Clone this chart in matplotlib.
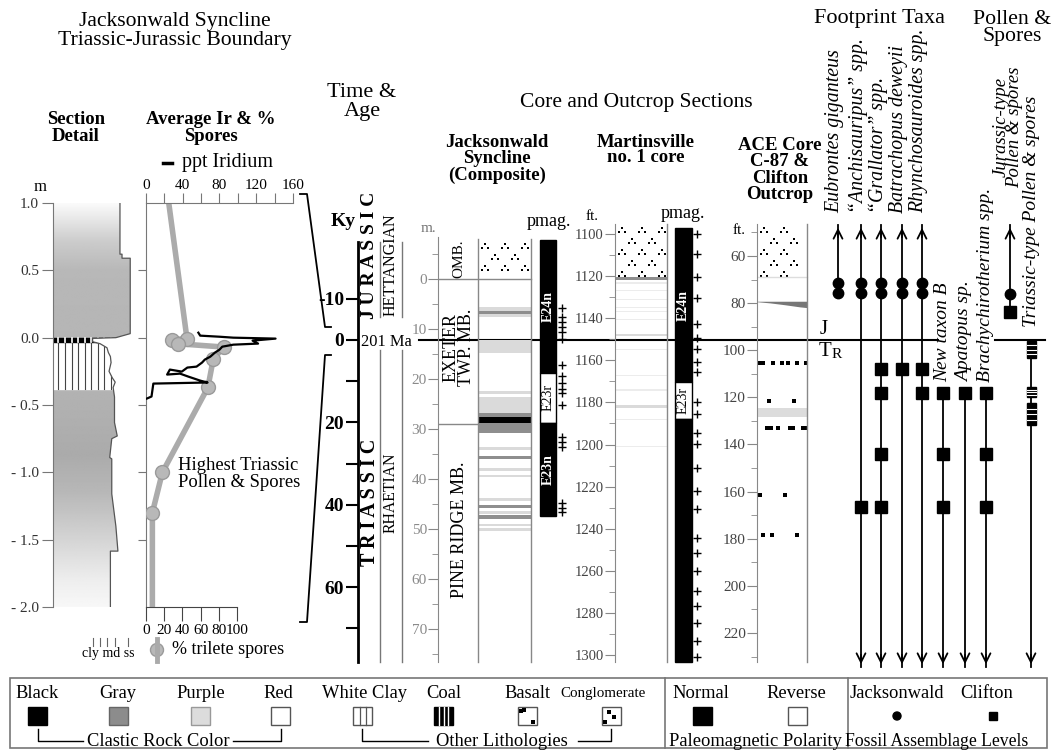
import numpy as np
import matplotlib.pyplot as plt
from matplotlib.patches import Rectangle, Polygon, Circle

plt.rcParams['font.family'] = ['Liberation Serif', 'DejaVu Serif']
plt.rcParams['font.size'] = 11

W, H = 1054, 752
Y0, Y1 = 215, 670          # common vertical span (px) of the section columns

# ---------------- data ----------------
# section detail: depth (m) vs grain-size profile
sec_ticks = [1.0, 0.5, 0.0, -0.5, -1.0, -1.5, -2.0]
sec_tick_labels = ["1.0", "0.5", "0.0", "- 0.5", "- 1.0", "- 1.5", "- 2.0"]
prof_depth = [1.0, 0.62, 0.62, 0.59, 0.59, 0.03, 0.0, -0.005, -0.03, -0.045, -0.075, -0.11,
              -0.14, -0.185, -0.25, -0.30, -0.33, -0.37, -0.44, -0.63, -0.73, -0.75, -0.89,
              -0.90, -1.16, -1.40, -1.585, -1.585, -2.0]
prof_grain = [4.9, 4.9, 5.05, 5.05, 5.65, 5.65, 4.6, 2.9, 2.9, 3.45, 3.95, 4.05,
              4.2, 4.25, 4.1, 4.35, 4.55, 4.4, 4.5, 4.5, 4.7, 4.3, 4.15,
              4.3, 4.3, 4.6, 4.75, 4.2, 4.2]
coal_top, coal_base = 0.0, -0.035
clay_top, clay_base = -0.035, -0.38
grad_depth = [-2.0, -1.8, -1.15, -0.87, -0.4, 0.0, 0.5, 0.72, 1.0]
grad_level = [0.97, 0.93, 0.72, 0.67, 0.70, 0.71, 0.72, 0.80, 0.98]

# iridium (ppt) and trilete spores (%)
ir_depth = [0.037, 0.015, 0.007, 0.0, -0.007, -0.022, -0.044, -0.052, -0.067, -0.089, -0.111,
            -0.141, -0.163, -0.185, -0.215, -0.222, -0.252, -0.237, -0.274, -0.267, -0.289,
            -0.319, -0.333, -0.341, -0.437, -0.452]
ir_ppt = [57, 59, 80, 95, 141, 116, 122, 95, 83, 80, 75, 70, 64, 61, 55, 45, 39, 26, 23, 37,
          46, 59, 67, 8, 6, 1]
spore_depth = [1.0, -0.007, -0.015, -0.045, -0.07, -0.155, -0.37, -1.0, -1.3, -2.0]
spore_pct = [25, 45, 29, 35, 86, 74, 68, 18, 7, 7]

# time scale (ky)
time_ticks = [-10, 0, 10, 20, 30, 40, 50, 60, 70]
time_labels = ["-10", "0", "", "20", "", "40", "", "60", ""]

# Jacksonwald composite (m)
jw_top = [5.6, 6.4, 12.2, 22.4, 23.6, 26.8, 27.6, 28.8, 33.6, 35.3, 37.8, 39.2, 43.8, 45.1,
          46.4, 47.2, 48.9, 49.8]
jw_base = [7.6, 7.0, 14.8, 22.9, 26.8, 27.6, 28.8, 30.8, 34.1, 35.9, 38.3, 39.6, 44.3, 45.7,
           47.0, 48.0, 49.4, 50.3]
jw_color = ['purple', 'gray', 'purple', 'purple', 'purple', 'gray', 'black', 'gray', 'purple',
            'gray', 'purple', 'purple', 'purple', 'gray', 'purple', 'gray', 'purple', 'purple']
jw_congl = (-7.8, 0.0)
jw_pmag_top = [-7.8, 18.7, 28.8]
jw_pmag_base = [18.7, 28.8, 47.3]
jw_pmag_pol = ['n', 'r', 'n']
jw_pmag_name = ['E24n', 'E23r', 'E23n']
jw_plus = [5.8, 7.6, 8.6, 9.5, 10.6, 12.0, 17.2, 19.4, 20.8, 22.0, 22.8, 25.2,
           31.6, 32.6, 33.6, 44.8, 45.7, 46.6]

# Martinsville no. 1 core (ft)
mart_top = [1120.4, 1123.0, 1126.5, 1131.0, 1134.5, 1136.5, 1140.2, 1147.6, 1154.8, 1166.8,
            1173.8, 1181.0, 1187.8, 1200.5]
mart_base = [1122.0, 1123.6, 1127.0, 1131.5, 1135.0, 1137.0, 1140.7, 1148.6, 1155.3, 1167.3,
             1174.4, 1182.8, 1188.3, 1201.0]
mart_color = ['gray', 'pale', 'pale', 'pale', 'pale', 'pale', 'pale', 'purple', 'pale', 'pale',
              'pale', 'purple', 'pale', 'pale']
mart_congl = (1095.2, 1120.4)
mart_pmag_top = [1097.0, 1170.5, 1188.0]
mart_pmag_base = [1170.5, 1188.0, 1303.3]
mart_pmag_pol = ['n', 'r', 'n']
mart_pmag_name = ['E24n', 'E23r', '']
mart_plus = [1100, 1109.5, 1120.4, 1130.4, 1142.8, 1149.4, 1154.7, 1160.8, 1165.6, 1179.8,
             1185.5, 1194.5, 1199.8, 1211, 1222, 1230.6, 1244.4, 1251.5, 1260, 1269.6, 1276.7,
             1284.8, 1293.3, 1300.9]

# ACE core C-87 & Clifton outcrop (ft)
ace_congl = (46.4, 69.0)
ace_band = (124.5, 128.5)
ace_wedge_x = [757, 770, 785, 800, 807]
ace_wedge_top = [79.2, 79.2, 79.2, 79.2, 79.2]
ace_wedge_base = [79.4, 79.9, 80.7, 81.6, 81.9]
ace_dot_ft = [105.4] * 7 + [121.5] * 2 + [133.0] * 7 + [161.4] * 2 + [178.4] * 3
ace_dot_x = [759, 763, 773, 782, 788, 797, 806, 769, 794, 767, 771, 778, 790, 793, 803, 806,
             760, 785, 763, 772, 797]

# footprint taxa / pollen (levels on the Jacksonwald metre scale)
taxa_names = ["Eubrontes giganteus", "\u201cAnchisauripus\u201d spp.", "\u201cGrallator\u201d spp.",
              "Batrachopus deweyii", "Rhynchosauroides spp.", "New taxon B", "Apatopus sp.",
              "Brachychirotherium spp."]
taxa_circles = [[0.8, 2.8]] * 5 + [[], [], []]
taxa_squares = [[], [45.6], [18.0, 22.8, 35.0, 45.6], [18.0], [18.0, 22.8],
                [22.8, 35.0, 45.6], [22.8], [22.8, 35.0, 45.6]]
taxa_up = [True, True, True, True, True, False, False, False]
taxa_down = [False, True, True, True, True, True, True, True]
arrow_top, arrow_bottom = -10.8, 77.6
pollen_jur_circle, pollen_jur_square = 3.0, 6.6
pollen_tri_blocks = [(12.4, 15.8), (21.6, 23.6), (24.8, 29.2)]
pollen_tri_start = 12.4

# ---------------- figure ----------------
fig = plt.figure(figsize=(W / 100, H / 100), dpi=100)


def add_ax(x0, y0, x1, y1):
    ax = fig.add_axes([x0 / W, 1 - y1 / H, (x1 - x0) / W, (y1 - y0) / H])
    ax.set_facecolor('none')
    return ax


def lim_from(v_a, y_a, v_b, y_b):
    k = (v_b - v_a) / (y_b - y_a)
    return v_a + (Y1 - y_a) * k, v_a + (Y0 - y_a) * k


def only_left(ax, color='#777'):
    for s in ['top', 'right', 'bottom']:
        ax.spines[s].set_visible(False)
    ax.spines['left'].set_color(color)
    ax.set_xticks([])


fill_colors = {'black': 'black', 'gray': '#8e8e8e', 'purple': '#dadada', 'pale': '#ececec'}

# ---- section detail ----
ax_sec = add_ax(53, 203, 135, 607)
verts = [(0, 1.0)] + list(zip(prof_grain, prof_depth)) + [(0, -2.0)]
clip = Polygon(verts, closed=True, facecolor='none', edgecolor='none')
ax_sec.add_patch(clip)
zz = np.linspace(-2, 1, 400)
shade = np.interp(zz, grad_depth, grad_level)
im = ax_sec.imshow(np.tile(shade[:, None], (1, 2)), extent=(0, 6, -2, 1), origin='lower',
                   aspect='auto', cmap='gray', vmin=0, vmax=1, interpolation='bilinear')
im.set_clip_path(clip)
r = ax_sec.add_patch(Rectangle((0, clay_base), 6, clay_top - clay_base, color='white'))
r.set_clip_path(clip)
r = ax_sec.add_patch(Rectangle((0, coal_base), 6, coal_top - coal_base, color='black'))
r.set_clip_path(clip)
for gx in np.arange(0.4, 6, 0.48):
    ln, = ax_sec.plot([gx, gx], [clay_base, clay_top], color='#444', lw=0.8)
    ln.set_clip_path(clip)
    ln, = ax_sec.plot([gx, gx], [coal_base, coal_top], color='white', lw=1.2)
    ln.set_clip_path(clip)
ax_sec.plot(prof_grain, prof_depth, color='#555', lw=0.9)
ax_sec.set_xlim(0, 6)
ax_sec.set_ylim(-2.0, 1.0)
only_left(ax_sec)
ax_sec.spines['left'].set_bounds(-2.0, 1.0)
ax_sec.set_yticks(sec_ticks, sec_tick_labels)
ax_sec.tick_params(axis='y', length=8, color='#777', labelsize=11, pad=2, labelcolor='#333')

# ---- iridium & spores ----
ax_sp = add_ax(146, 203, 293, 607)
ax_sp.set_xlim(0, 161.5)
ax_sp.set_ylim(-2.0, 1.0)
ax_sp.plot(spore_pct, spore_depth, color='#ababab', lw=4, solid_capstyle='butt', zorder=2)
ax_sp.plot(spore_pct[1:-1], spore_depth[1:-1], 'o', ms=10, mfc='#b8b8b8', mec='#9a9a9a',
           mew=1, zorder=3)
for s in ['top', 'right']:
    ax_sp.spines[s].set_visible(False)
ax_sp.spines['left'].set_color('#777')
ax_sp.spines['bottom'].set_color('#444')
ax_sp.spines['bottom'].set_bounds(0, 100)
ax_sp.set_xticks(np.arange(0, 101, 20))
ax_sp.set_yticks([0.5, 0.0, -0.5, -1.0, -1.5], [])
ax_sp.tick_params(axis='y', length=6, color='#777')
ax_sp.tick_params(axis='x', length=10, color='#444', labelsize=11, pad=2)

ax_ir = ax_sp.twiny()
ax_ir.set_xlim(0, 160)
ax_ir.plot(ir_ppt, ir_depth, color='black', lw=1.6, zorder=4)
for s in ['bottom', 'right', 'left']:
    ax_ir.spines[s].set_visible(False)
ax_ir.spines['top'].set_color('#777')
ax_ir.set_xticks(np.arange(0, 161, 20), ['0', '', '40', '', '80', '', '120', '', '160'])
ax_ir.tick_params(axis='x', length=7, color='#777', labelsize=11, pad=1)

# ---- time & age ----
ax_time = add_ax(358, Y0, 420, Y1)
ax_time.set_xlim(358, 420)
ax_time.set_ylim(*lim_from(0, 340, 60, 587))
only_left(ax_time, 'black')
ax_time.spines['left'].set_linewidth(2)
ax_time.spines['left'].set_bounds(-23.8, 78.2)
ax_time.set_yticks(time_ticks, time_labels)
ax_time.tick_params(axis='y', length=9, width=1.5, labelsize=14, pad=1)
for t in ax_time.get_yticklabels():
    t.set_fontweight('bold')
for xv in (380, 402):
    ax_time.plot([xv, xv], [-23.8, -5.6], color='#777', lw=1)
    ax_time.plot([xv, xv], [2.4, 78.2], color='#777', lw=1)
ax_time.plot([419, 938], [0, 0], color='black', lw=1.5, clip_on=False, zorder=10)
ax_time.plot([995, 1045], [0, 0], color='black', lw=1.5, clip_on=False, zorder=10)
ax_time.text(361, 0.4, '201 Ma', fontsize=11.8, va='center', ha='left')
ax_time.text(370, -20.5, 'J U R A S S I C', rotation=90, fontsize=14, fontweight='bold',
             ha='center', va='center')
ax_time.text(391, -18.2, 'HETTANGIAN', rotation=90, fontsize=11.5, ha='center', va='center')
ax_time.text(370, 39.5, 'T R I A S S I C', rotation=90, fontsize=14.5, fontweight='bold',
             ha='center', va='center')
ax_time.text(391, 37.0, 'RHAETIAN', rotation=90, fontsize=11.3, ha='center', va='center')


def pmag_bar(ax, x0, x1, tops, bases, pols, names):
    for t, b, p, n in zip(tops, bases, pols, names):
        ax.add_patch(Rectangle((x0, t), x1 - x0, b - t, facecolor='black' if p == 'n' else 'white',
                               edgecolor='black', lw=1, zorder=3))
        if n:
            ax.text((x0 + x1) / 2, (t + b) / 2, n, rotation=90, ha='center', va='center',
                    fontsize=10, zorder=4, color='white' if p == 'n' else 'black',
                    fontweight='bold' if p == 'n' else 'normal')


def conglomerate(ax, x0, x1, top, base, k):
    rows = np.arange(top + 6 * k, base, 11 * k)
    for i, yv in enumerate(rows):
        xs = np.arange(x0 + 7 + (i % 2) * 10, x1 - 3, 20)
        for dx, dy in [(0, -2.2), (-3, 2), (3, 2)]:
            ax.plot(xs + dx, np.full(len(xs), yv + dy * k), 's', ms=1.9, color='black', mew=0)


def bands(ax, x0, x1, tops, bases, colors):
    for t, b, c in zip(tops, bases, colors):
        ax.add_patch(Rectangle((x0, t), x1 - x0, b - t, color=fill_colors[c], lw=0))


# ---- Jacksonwald composite ----
ax_jw = add_ax(438, Y0, 575, Y1)
ax_jw.set_xlim(438, 575)
ax_jw.set_ylim(*lim_from(0, 279, 70, 629))
only_left(ax_jw, '#888')
ax_jw.spines['left'].set_bounds(-8.4, 76.6)
ax_jw.set_yticks(np.arange(0, 71, 10))
ax_jw.set_yticks(np.arange(-5, 76, 10), minor=True)
ax_jw.tick_params(axis='y', which='major', length=7, color='#888', labelcolor='#8a8a8a',
                  labelsize=11, pad=1)
ax_jw.tick_params(axis='y', which='minor', length=4, color='#888')
bands(ax_jw, 478, 531, jw_top, jw_base, jw_color)
conglomerate(ax_jw, 478, 531, jw_congl[0], jw_congl[1], 0.2)
for xv in (478, 531):
    ax_jw.plot([xv, xv], [-8.0, 76.6], color='#888', lw=1)
ax_jw.plot([438, 531], [0, 0], color='#888', lw=1)
ax_jw.plot([438, 478], [29.0, 29.0], color='#888', lw=1)
pmag_bar(ax_jw, 540, 556, jw_pmag_top, jw_pmag_base, jw_pmag_pol, jw_pmag_name)
ax_jw.plot([562] * len(jw_plus), jw_plus, '+', ms=5.5, mew=1, color='black')
ax_jw.text(459, -4.0, 'OMB.', rotation=90, fontsize=11, ha='center', va='center')
ax_jw.text(459, 13.6, 'EXETER\nTWP. MB.', rotation=90, fontsize=13, ha='center', va='center',
           linespacing=0.85)
ax_jw.text(459, 50.2, 'PINE RIDGE MB.', rotation=90, fontsize=13, ha='center', va='center')

# ---- Martinsville ----
ax_m = add_ax(615, Y0, 705, Y1)
ax_m.set_xlim(615, 705)
ax_m.set_ylim(*lim_from(1100, 234, 1300, 655))
only_left(ax_m, '#888')
ax_m.spines['left'].set_bounds(1095.2, 1303.3)
ax_m.set_yticks(np.arange(1100, 1301, 20))
ax_m.set_yticks(np.arange(1110, 1300, 20), minor=True)
ax_m.tick_params(axis='y', which='major', length=7, color='#888', labelcolor='#444',
                 labelsize=10.5, pad=1)
ax_m.tick_params(axis='y', which='minor', length=4, color='#888')
bands(ax_m, 615, 667, mart_top, mart_base, mart_color)
conglomerate(ax_m, 615, 667, mart_congl[0], mart_congl[1], 0.475)
ax_m.plot([667, 667], [1095.2, 1303.3], color='#888', lw=1)
pmag_bar(ax_m, 675, 692, mart_pmag_top, mart_pmag_base, mart_pmag_pol, mart_pmag_name)
ax_m.plot([697] * len(mart_plus), mart_plus, '+', ms=6, mew=1, color='black')

# ---- ACE core ----
ax_a = add_ax(757, Y0, 812, Y1)
ax_a.set_xlim(757, 812)
ax_a.set_ylim(*lim_from(60, 256, 220, 633))
only_left(ax_a, '#888')
ax_a.spines['left'].set_bounds(46.4, 232.3)
ax_a.set_yticks(np.arange(60, 221, 20))
ax_a.set_yticks(np.arange(50, 231, 20), minor=True)
ax_a.tick_params(axis='y', which='major', length=7, color='#888', labelcolor='#444',
                 labelsize=11, pad=1)
ax_a.tick_params(axis='y', which='minor', length=4, color='#888')
conglomerate(ax_a, 757, 807, ace_congl[0], ace_congl[1], 0.4245)
ax_a.plot([757, 807], [ace_congl[1], ace_congl[1]], color='#ddd', lw=1)
ax_a.fill_between(ace_wedge_x, ace_wedge_top, ace_wedge_base, color='#777', lw=0)
ax_a.add_patch(Rectangle((757, ace_band[0]), 50, ace_band[1] - ace_band[0], color='#dcdcdc', lw=0))
ax_a.plot(ace_dot_x, ace_dot_ft, 's', ms=2.3, color='black', mew=0)
ax_a.plot([807, 807], [46.4, 232.3], color='#888', lw=1)

# ---- footprint taxa & pollen ----
taxa_x = [838, 861, 881, 902, 922, 943, 965, 986]
ax_t = add_ax(815, Y0, 1050, Y1)
ax_t.set_xlim(815, 1050)
ax_t.set_ylim(*lim_from(0, 279, 70, 629))
ax_t.axis('off')
arrow_kw = dict(arrowstyle='->', lw=1.3, color='black', mutation_scale=16)
for x, circ, sq, up, down in zip(taxa_x, taxa_circles, taxa_squares, taxa_up, taxa_down):
    levels = circ + sq
    top = arrow_top if up else min(levels)
    base = arrow_bottom if down else max(levels)
    ax_t.plot([x, x], [top, base], color='black', lw=1.3, clip_on=False)
    if up:
        ax_t.annotate('', xy=(x, arrow_top), xytext=(x, arrow_top + 3), arrowprops=arrow_kw,
                      annotation_clip=False)
    if down:
        ax_t.annotate('', xy=(x, arrow_bottom), xytext=(x, arrow_bottom - 3), arrowprops=arrow_kw,
                      annotation_clip=False)
    if circ:
        ax_t.plot([x] * len(circ), circ, 'o', ms=7.5, color='black')
    if sq:
        ax_t.plot([x] * len(sq), sq, 's', ms=8, color='black')

xj, xt = 1010, 1031
ax_t.plot([xj, xj], [arrow_top, pollen_jur_square], color='black', lw=1.3, clip_on=False)
ax_t.annotate('', xy=(xj, arrow_top), xytext=(xj, arrow_top + 3), arrowprops=arrow_kw,
              annotation_clip=False)
ax_t.plot([xj], [pollen_jur_circle], 'o', ms=7.5, color='black')
ax_t.plot([xj], [pollen_jur_square], 's', ms=9, color='black')
ax_t.plot([xt, xt], [pollen_tri_start, arrow_bottom], color='black', lw=1.3, clip_on=False)
ax_t.annotate('', xy=(xt, arrow_bottom), xytext=(xt, arrow_bottom - 3), arrowprops=arrow_kw,
              annotation_clip=False)
for t, b in pollen_tri_blocks:
    ax_t.add_patch(Rectangle((xt - 4.5, t), 9, b - t, color='black', zorder=3))
    for f in np.linspace(t, b, 5)[1:-1]:
        ax_t.plot([xt - 4.5, xt + 4.5], [f, f], color='white', lw=0.8, zorder=4)

# ---------------- overlay: titles, labels, legend ----------------
ax_bg = fig.add_axes([0, 0, 1, 1])
ax_bg.set_xlim(0, W)
ax_bg.set_ylim(H, 0)
ax_bg.axis('off')
T = ax_bg.text

T(175, 31, 'Jacksonwald Syncline\nTriassic-Jurassic Boundary', fontsize=15.6, ha='center',
  va='center', linespacing=1.0)
T(76, 128, 'Section\nDetail', fontsize=13.5, fontweight='bold', ha='center', va='center',
  linespacing=0.95)
T(211, 128, 'Average Ir & %\nSpores', fontsize=13.5, fontweight='bold', ha='center',
  va='center', linespacing=0.95)
ax_bg.plot([163, 172], [163, 163], color='black', lw=2.5)
T(182, 163, 'ppt Iridium', fontsize=14.5, va='center')
T(40, 187, 'm', fontsize=12, ha='center', va='center')
T(178, 474, 'Highest Triassic\nPollen & Spores', fontsize=13.4, va='center', linespacing=0.95)
for gx in [93, 100, 107, 115, 128]:
    ax_bg.plot([gx, gx], [638, 646], color='#666', lw=0.8)
T(108, 653, 'cly md ss', fontsize=10, ha='center', va='center')
ax_bg.plot([157, 157], [639, 661], color='#aaa', lw=3.5)
ax_bg.add_patch(Circle((157, 650), 6.5, facecolor='#b8b8b8', edgecolor='#9a9a9a'))
T(172, 650, '% trilete spores', fontsize=13, va='center')

# zoom connector between section detail and time column
ax_bg.plot([300, 307, 325, 331], [194, 194, 327, 327], color='black', lw=1.3)
ax_bg.plot([331, 325, 307, 300], [355, 355, 622, 622], color='black', lw=1.3)

T(362, 102, 'Time &\nAge', fontsize=16, ha='center', va='center', linespacing=0.95)
T(343, 222, 'Ky', fontsize=14, fontweight='bold', ha='center', va='center')
T(636, 102, 'Core and Outcrop Sections', fontsize=15.5, ha='center', va='center')
T(497, 159, 'Jacksonwald\nSyncline\n(Composite)', fontsize=13.5, fontweight='bold',
  ha='center', va='center', linespacing=0.92)
T(646, 150, 'Martinsville\nno. 1 core', fontsize=13.5, fontweight='bold', ha='center',
  va='center', linespacing=0.92)
T(780, 170, 'ACE Core\nC-87 &\nClifton\nOutcrop', fontsize=13.5, fontweight='bold',
  ha='center', va='center', linespacing=0.97)
T(428, 228, 'm.', fontsize=11, color='#777', ha='center', va='center')
T(549, 221, 'pmag.', fontsize=13, ha='center', va='center')
T(592, 216, 'ft.', fontsize=11, ha='center', va='center')
T(683, 214, 'pmag.', fontsize=13, ha='center', va='center')
T(739, 230, 'ft.', fontsize=11, ha='center', va='center')

T(880, 18, 'Footprint Taxa', fontsize=16, ha='center', va='center')
T(1012, 28, 'Pollen &\nSpores', fontsize=15.7, ha='center', va='center', linespacing=0.9)
for i, (x, name) in enumerate(zip(taxa_x, taxa_names)):
    if i < 5:
        T(x - 3, 213, name, rotation=90, fontsize=14.3, style='italic', ha='center', va='bottom')
    else:
        T(x, 382, name, rotation=90, fontsize=14, style='italic', ha='center', va='bottom')
T(1008, 188, 'Jurassic-type\nPollen & spores', rotation=90, fontsize=13.5, style='italic',
  ha='center', va='bottom', linespacing=0.78)
T(1032, 327, 'Triassic-type Pollen & spores', rotation=90, fontsize=14, style='italic',
  ha='center', va='bottom')
T(820, 329, 'J', fontsize=15, ha='left', va='center')
T(819, 352, 'T', fontsize=15, ha='left', va='center')
T(832, 354, 'R', fontsize=11, ha='left', va='center')

# ---- legend box ----
ax_bg.add_patch(Rectangle((10, 678), 1037, 70, fill=False, edgecolor='#777', lw=1.2))
for xv in (665, 848):
    ax_bg.plot([xv, xv], [678, 748], color='#777', lw=1.2)
legend_labels = ['Black', 'Gray', 'Purple', 'Red', 'White Clay', 'Coal', 'Basalt',
                 'Conglomerate', 'Normal', 'Reverse', 'Jacksonwald', 'Clifton']
legend_x = [37, 118, 201, 278, 364, 444, 527, 603, 701, 796, 897, 987]
for lab, x in zip(legend_labels, legend_x):
    T(x, 693, lab, fontsize=10.8 if lab == 'Conglomerate' else 13.3, ha='center', va='center')
sw = dict(width=19, height=18, lw=1)
ax_bg.add_patch(Rectangle((28, 707), facecolor='black', edgecolor='black', **sw))
ax_bg.add_patch(Rectangle((109, 707), facecolor='#8c8c8c', edgecolor='#666', **sw))
ax_bg.add_patch(Rectangle((191, 707), facecolor='#dcdcdc', edgecolor='#999', **sw))
ax_bg.add_patch(Rectangle((271, 707), facecolor='white', edgecolor='#555', **sw))
ax_bg.add_patch(Rectangle((353, 707), facecolor='white', edgecolor='#555', **sw))
for xv in (359.5, 365.5):
    ax_bg.plot([xv, xv], [707, 725], color='#555', lw=0.9)
ax_bg.add_patch(Rectangle((434, 707), facecolor='black', edgecolor='black', **sw))
for xv in (439, 443.5, 448):
    ax_bg.plot([xv, xv], [707, 725], color='white', lw=1)
ax_bg.add_patch(Rectangle((518, 707), facecolor='white', edgecolor='#555', **sw))
ax_bg.plot([521, 524, 533], [710.5, 710, 721.5], 's', ms=2.2, color='black', mew=0)
ax_bg.add_patch(Rectangle((602, 707), facecolor='white', edgecolor='#555', **sw))
ax_bg.plot([609, 614, 605], [712, 717, 722], 's', ms=2.2, color='black', mew=0)
ax_bg.add_patch(Rectangle((693, 707), facecolor='black', edgecolor='black', **sw))
ax_bg.add_patch(Rectangle((788, 707), facecolor='white', edgecolor='#555', **sw))
ax_bg.add_patch(Circle((897, 716), 4, color='black'))
ax_bg.add_patch(Rectangle((989, 712), 8, 8, color='black'))

ax_bg.plot([38, 38, 83], [729, 741, 741], color='black', lw=1)
T(158, 741, 'Clastic Rock Color', fontsize=13.3, ha='center', va='center')
ax_bg.plot([233, 281, 281], [741, 741, 729], color='black', lw=1)
ax_bg.plot([362, 362, 428], [729, 741, 741], color='black', lw=1)
T(502, 741, 'Other Lithologies', fontsize=13.3, ha='center', va='center')
ax_bg.plot([578, 611, 611], [741, 741, 729], color='black', lw=1)
T(755, 741, 'Paleomagnetic Polarity', fontsize=13.3, ha='center', va='center')
T(937, 741, 'Fossil Assemblage Levels', fontsize=12.7, ha='center', va='center')

fig.savefig('out.png', dpi=100, facecolor='white')
